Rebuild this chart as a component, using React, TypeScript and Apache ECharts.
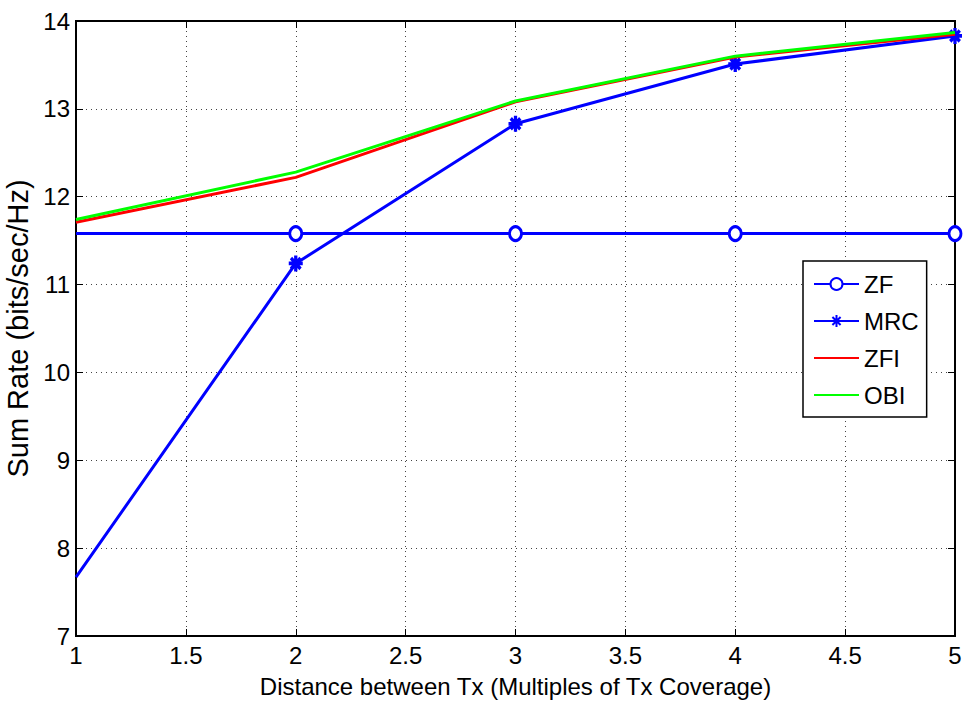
import React, { useEffect, useRef } from "react";
import * as echarts from "echarts";

const xValues = [1, 2, 3, 4, 5];
const zfValues = [11.58, 11.58, 11.58, 11.58, 11.58];
const mrcValues = [7.67, 11.24, 12.83, 13.51, 13.83];
const zfiValues = [11.71, 12.22, 13.08, 13.59, 13.85];
const obiValues = [11.74, 12.28, 13.09, 13.6, 13.87];
const legendNames = ["ZF", "MRC", "ZFI", "OBI"];

const FONT = "'Liberation Sans', Arial";
const ASTERISK = "path://M5 0L5 10M0 5L10 5M1.6 1.6L8.4 8.4M8.4 1.6L1.6 8.4";

function pairs(vals: number[], hideFirst: boolean) {
  return vals.map((v, i) =>
    hideFirst && i === 0 ? { value: [xValues[i], v], symbol: "none" } : { value: [xValues[i], v] }
  );
}

export default function App() {
  const ref = useRef<HTMLDivElement>(null);
  useEffect(() => {
    if (!ref.current) return;
    const chart = echarts.init(ref.current, null, { renderer: "svg" });
    const gridLine = { show: true, lineStyle: { color: "#444", type: [1, 4] as any, width: 1 } };
    const axisLine = { show: true, lineStyle: { color: "#000", width: 2 } };
    const tick = { show: true, inside: true, length: 7, lineStyle: { color: "#000", width: 1 } };
    chart.setOption({
      animation: false,
      backgroundColor: "#fff",
      textStyle: { fontFamily: FONT },
      grid: {
        left: 76, right: 10, top: 21, bottom: 73,
        outerBoundsMode: "none", containLabel: false,
        show: true, borderColor: "#000", borderWidth: 2,
      },
      xAxis: [
        {
          type: "value", min: 1, max: 5, interval: 0.5,
          name: "Distance between Tx (Multiples of Tx Coverage)",
          nameLocation: "middle", nameGap: 38,
          nameTextStyle: { fontFamily: FONT, fontSize: 24, color: "#000" },
          axisLine, axisTick: tick,
          axisLabel: { fontFamily: FONT, fontSize: 24, color: "#000", margin: 7 },
          splitLine: gridLine,
        },
        {
          type: "value", min: 1, max: 5, interval: 0.5, position: "top",
          axisLine, axisTick: tick,
          axisLabel: { show: false }, splitLine: { show: false },
        },
      ],
      yAxis: [
        {
          type: "value", min: 7, max: 14, interval: 1,
          name: "Sum Rate (bits/sec/Hz)",
          nameLocation: "middle", nameGap: 42,
          nameTextStyle: { fontFamily: FONT, fontSize: 29, color: "#000" },
          axisLine, axisTick: tick,
          axisLabel: { fontFamily: FONT, fontSize: 24, color: "#000", margin: 6 },
          splitLine: gridLine,
        },
        {
          type: "value", min: 7, max: 14, interval: 1, position: "right",
          axisLine, axisTick: tick,
          axisLabel: { show: false }, splitLine: { show: false },
        },
      ],
      legend: {
        orient: "vertical",
        left: 803, top: 261,
        padding: [11, 8, 10, 10],
        itemWidth: 45, itemHeight: 15, itemGap: 13,
        backgroundColor: "#fff",
        borderColor: "#000", borderWidth: 1.5, borderRadius: 0,
        textStyle: { fontFamily: FONT, fontSize: 24, color: "#000" },
        data: legendNames.map((n, i) =>
          i >= 2
            ? { name: n, itemStyle: { color: "rgba(0,0,0,0)", borderWidth: 0, opacity: 0 } }
            : { name: n }
        ),
      },
      series: [
        {
          name: legendNames[0], type: "line", data: pairs(zfValues, true),
          symbol: "circle", symbolSize: [12, 14], showAllSymbol: true,
          lineStyle: { color: "#0000ff", width: 3 },
          itemStyle: { color: "#fff", borderColor: "#0000ff", borderWidth: 3 },
          clip: false, z: 2,
        },
        {
          name: legendNames[1], type: "line", data: pairs(mrcValues, true),
          symbol: ASTERISK, symbolSize: [14, 16], showAllSymbol: true,
          lineStyle: { color: "#0000ff", width: 3 },
          itemStyle: { color: "#0000ff", borderColor: "#0000ff", borderWidth: 3.5 },
          clip: false, z: 3,
        },
        {
          name: legendNames[2], type: "line", data: pairs(zfiValues, false),
          symbol: "none", lineStyle: { color: "#ff0000", width: 3 },
          itemStyle: { color: "#ff0000" }, z: 4,
        },
        {
          name: legendNames[3], type: "line", data: pairs(obiValues, false),
          symbol: "none", lineStyle: { color: "#00ff00", width: 3 },
          itemStyle: { color: "#00ff00" }, z: 5,
        },
      ],
    });
    return () => chart.dispose();
  }, []);
  return <div ref={ref} style={{ width: 965, height: 709, position: "absolute", left: 0, top: 0 }} />;
}
